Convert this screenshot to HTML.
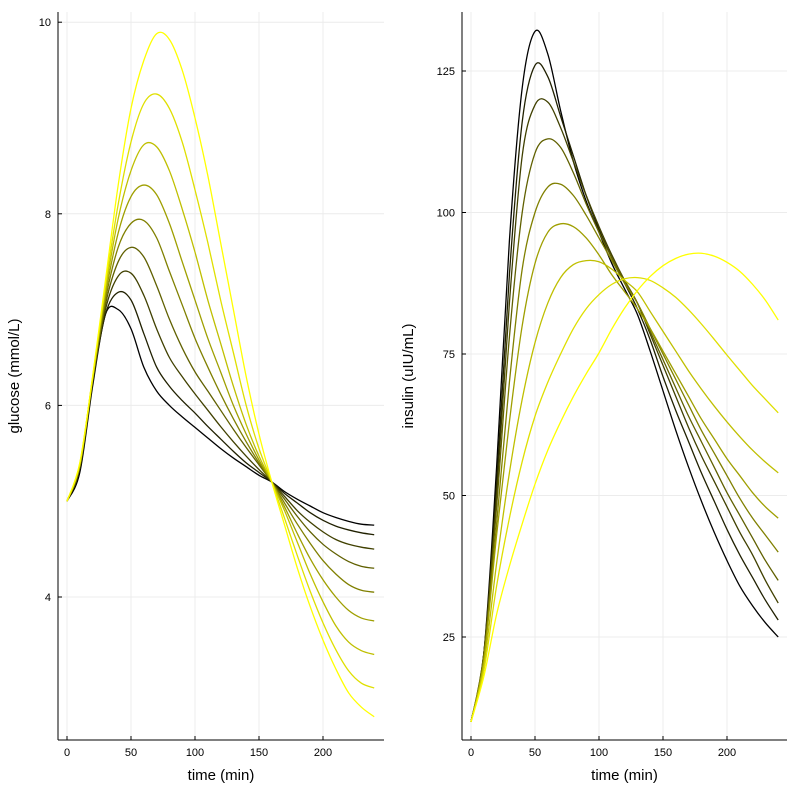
<!DOCTYPE html>
<html><head><meta charset="utf-8"><style>
body{margin:0;background:#fff}
svg{display:block;font-family:"Liberation Sans",sans-serif}
</style></head><body>
<svg id="chart" width="799" height="800" viewBox="0 0 799 800"></svg>
<script>
const times=[0,10,20,30,40,50,60,70,80,90,100,110,120,130,140,150,160,170,180,190,200,210,220,230,240];
const glucoseTicks=[4,6,8,10];
const insulinTicks=[25,50,75,100,125];
const timeTicks=[0,50,100,150,200];
const glucose0=[5.0,5.3,6.2,6.95,7.0,6.8,6.4,6.15,6.0,5.88,5.77,5.66,5.55,5.45,5.36,5.27,5.2,5.1,5.02,4.95,4.88,4.83,4.79,4.76,4.75];
const glucose1=[5.0,5.35,6.25,6.95,7.18,7.1,6.75,6.4,6.2,6.05,5.92,5.78,5.65,5.52,5.4,5.3,5.2,5.08,4.98,4.88,4.8,4.74,4.7,4.67,4.65];
const glucose2=[5.0,5.35,6.25,7.0,7.35,7.38,7.15,6.8,6.5,6.3,6.12,5.95,5.78,5.62,5.47,5.33,5.2,5.05,4.9,4.78,4.68,4.6,4.55,4.52,4.5];
const glucose3=[5.0,5.35,6.25,7.05,7.5,7.65,7.55,7.25,6.9,6.6,6.35,6.15,5.95,5.75,5.56,5.38,5.2,5.02,4.84,4.68,4.55,4.45,4.37,4.32,4.3];
const glucose4=[5.0,5.37,6.27,7.1,7.65,7.9,7.93,7.75,7.4,7.05,6.7,6.4,6.12,5.86,5.62,5.4,5.2,4.98,4.76,4.56,4.38,4.24,4.13,4.07,4.05];
const glucose5=[5.0,5.38,6.28,7.15,7.8,8.18,8.3,8.2,7.9,7.5,7.1,6.7,6.35,6.0,5.7,5.43,5.2,4.94,4.66,4.4,4.18,4.0,3.86,3.78,3.75];
const glucose6=[5.0,5.38,6.28,7.2,7.95,8.45,8.72,8.7,8.45,8.05,7.6,7.1,6.65,6.2,5.8,5.47,5.2,4.9,4.57,4.24,3.95,3.7,3.53,3.44,3.4];
const glucose7=[5.0,5.39,6.29,7.25,8.1,8.75,9.15,9.25,9.1,8.75,8.25,7.7,7.1,6.55,6.0,5.55,5.2,4.82,4.43,4.06,3.73,3.45,3.23,3.1,3.05];
const glucose8=[5.0,5.4,6.3,7.3,8.3,9.1,9.6,9.88,9.82,9.5,9.0,8.4,7.7,7.0,6.3,5.7,5.2,4.75,4.3,3.9,3.55,3.25,3.0,2.85,2.75];
const insulin0=[10,22,55,95,122,132,128,118,109,102,96.5,91,86.5,82,75.5,68.5,61.5,55,49,43.5,38.5,34,30.5,27.5,25];
const insulin1=[10,22,52,89,116,126,124,117,110,103,97,92,87.5,83,77.5,71,65,59.5,54,49,44,39.5,35.5,31.5,28];
const insulin2=[10,22,50,84,110,119,119.5,115,109,103,97.5,92.5,88,84,78.5,73,67.5,62,57,52.5,48,43.5,39.5,35,31];
const insulin3=[10,22,48,78,100,110.5,113,111.5,107,101.5,96.5,92,88,84,79,74,69,64,59.5,55,50.5,46.5,42.5,38.5,35];
const insulin4=[10,21,45,70,90,100,104.5,105,103,99.5,95.5,91.5,87.5,84,79.5,75,70.5,66,61.5,57.5,53.5,49.5,46,43,40];
const insulin5=[10,21,43,63,80,91,96.5,98,97.5,95.5,92.5,89,86,83,79.5,75.5,71.5,67.5,63.5,60,56.5,53.5,50.5,48,46];
const insulin6=[10,20,38,54,67,77,84,88.5,90.8,91.5,91.3,90,88,86,82.5,79,75.5,72,68.8,65.8,63,60.4,58,55.9,54];
const insulin7=[10,19,34,46,56,64,70,75,79.5,83,85.5,87.3,88.3,88.5,88,86.7,85,82.8,80.3,77.6,74.8,72.1,69.4,67,64.6];
const insulin8=[10,18,29,37.5,45,52,58,63,67.5,71.5,75.2,79.4,83.1,86.2,88.7,90.6,91.9,92.65,92.8,92.3,91.2,89.6,87.3,84.5,81];
const glucoseSeries=[glucose0,glucose1,glucose2,glucose3,glucose4,glucose5,glucose6,glucose7,glucose8];
const insulinSeries=[insulin0,insulin1,insulin2,insulin3,insulin4,insulin5,insulin6,insulin7,insulin8];

const NS="http://www.w3.org/2000/svg";
const svg=document.getElementById('chart');
function mk(tag,attrs,parent){const e=document.createElementNS(NS,tag);for(const k in attrs)e.setAttribute(k,attrs[k]);(parent||svg).appendChild(e);return e;}
function smoothPath(pts){let d=`M${pts[0][0]},${pts[0][1]}`;for(let i=0;i<pts.length-1;i++){const p0=pts[Math.max(0,i-1)],p1=pts[i],p2=pts[i+1],p3=pts[Math.min(pts.length-1,i+2)];const c1x=p1[0]+(p2[0]-p0[0])/6,c1y=p1[1]+(p2[1]-p0[1])/6,c2x=p2[0]-(p3[0]-p1[0])/6,c2y=p2[1]-(p3[1]-p1[1])/6;d+=`C${c1x.toFixed(2)},${c1y.toFixed(2)} ${c2x.toFixed(2)},${c2y.toFixed(2)} ${p2[0].toFixed(2)},${p2[1].toFixed(2)}`;}return d;}

function panel(cfg){
  const g=mk('g',{});
  
  
  const xs=t=>cfg.x0+t*cfg.xk;
  const ys=v=>cfg.yref+(cfg.vref-v)*cfg.yk;
  timeTicks.forEach(t=>{const l=mk('line',{x1:xs(t),x2:xs(t),y1:cfg.top,y2:cfg.bottom,stroke:'#ececec','stroke-width':1},g);});
  cfg.yticks.forEach(v=>{const l=mk('line',{x1:cfg.left,x2:cfg.right,y1:ys(v),y2:ys(v),stroke:'#ececec','stroke-width':1},g);});
  const n=cfg.series.length;
  cfg.series.forEach((s,i)=>{const f=i/(n-1);const c=`rgb(${Math.round(255*f)},${Math.round(255*f)},0)`;
    const p=mk('path',{d:smoothPath(s.map((v,j)=>[xs(times[j]),ys(v)])),fill:'none',stroke:c,'stroke-width':1.3},g);
    
    });
  const ax=mk('line',{x1:cfg.left,x2:cfg.left,y1:cfg.top,y2:cfg.bottom,stroke:'#000','stroke-width':1},g);
  
  const bx=mk('line',{x1:cfg.left,x2:cfg.right,y1:cfg.bottom,y2:cfg.bottom,stroke:'#000','stroke-width':1},g);
  
  timeTicks.forEach(t=>{mk('line',{x1:xs(t),x2:xs(t),y1:cfg.bottom,y2:cfg.bottom-4,stroke:'#000'},g);
    const tx=mk('text',{x:xs(t),y:cfg.bottom+16,'text-anchor':'middle','font-size':11,fill:'#000'},g);tx.textContent=t;
    });
  cfg.yticks.forEach(v=>{mk('line',{x1:cfg.left,x2:cfg.left+4,y1:ys(v),y2:ys(v),stroke:'#000'},g);
    const tx=mk('text',{x:cfg.left-7,y:ys(v)+4,'text-anchor':'end','font-size':11,fill:'#000'},g);tx.textContent=v;
    });
  const xt=mk('text',{x:(cfg.left+cfg.right)/2,y:780,'text-anchor':'middle','font-size':15,fill:'#000'},g);xt.textContent='time (min)';
  
  const yt=mk('text',{x:0,y:0,'text-anchor':'middle','font-size':15,fill:'#000',transform:`translate(${cfg.ytx},${(cfg.top+cfg.bottom)/2}) rotate(-90)`},g);yt.textContent=cfg.ytitle;
  
}
panel({name:'glucose-panel',series:glucoseSeries,yticks:glucoseTicks,x0:67,xk:1.28,yref:597,vref:4,yk:95.8,left:58,right:384,top:12,bottom:740,ytx:19,ytitle:'glucose (mmol/L)'});
panel({name:'insulin-panel',series:insulinSeries,yticks:insulinTicks,x0:471,xk:1.28,yref:637,vref:25,yk:5.66,left:462,right:787,top:12,bottom:740,ytx:413,ytitle:'insulin (uIU/mL)'});
</script>
</body></html>
